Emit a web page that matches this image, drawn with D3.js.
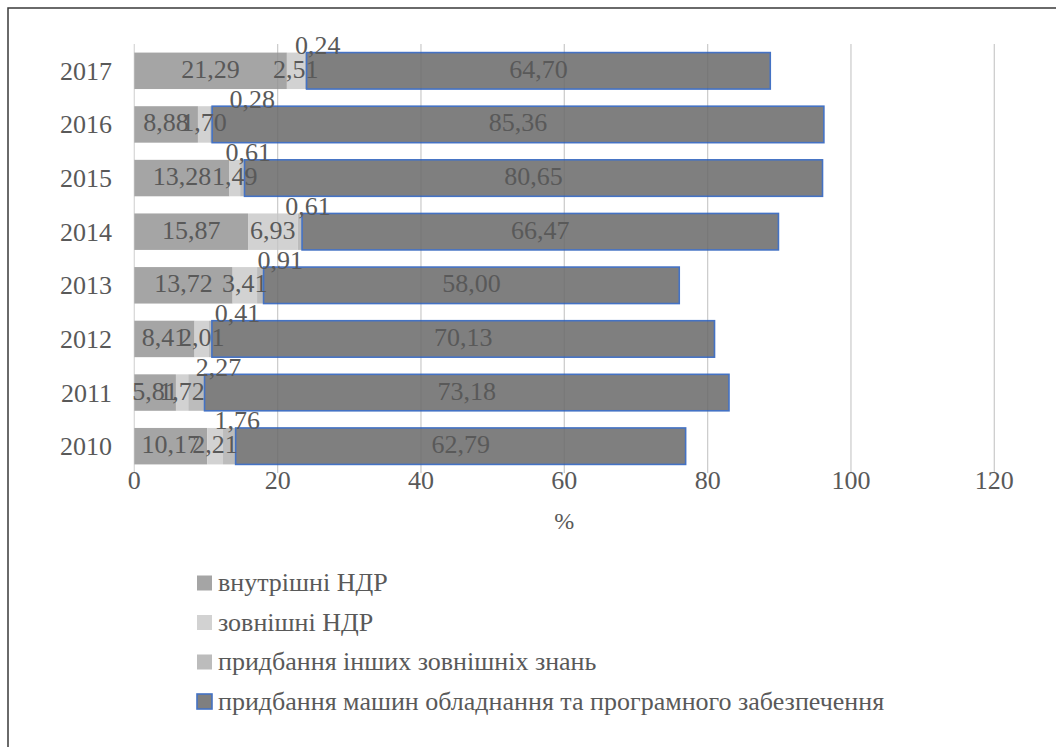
<!DOCTYPE html>
<html>
<head>
<meta charset="utf-8">
<script src="https://cdn.jsdelivr.net/npm/d3@7"></script>
<style>
  html, body { margin: 0; padding: 0; background: #fff; }
  svg { display: block; }
</style>
</head>
<body>
<svg id="chart" width="1056" height="747" font-family="'Liberation Serif', 'Times New Roman', serif"></svg>
<script>
// ---- data ----
const years = ["2010", "2011", "2012", "2013", "2014", "2015", "2016", "2017"];
const internalRD = [10.17, 5.81, 8.41, 13.72, 15.87, 13.28, 8.88, 21.29];
const externalRD = [2.21, 1.72, 2.01, 3.41, 6.93, 1.49, 1.70, 2.51];
const otherKnowledge = [1.76, 2.27, 0.41, 0.91, 0.61, 0.61, 0.28, 0.24];
const machinery = [62.79, 73.18, 70.13, 58.00, 66.47, 80.65, 85.36, 64.70];
const seriesNames = [
  "внутрішні НДР",
  "зовнішні НДР",
  "придбання інших зовнішніх знань",
  "придбання машин обладнання та програмного забезпечення"
];
const xTicks = [0, 20, 40, 60, 80, 100, 120];
const xAxisTitle = "%";

// ---- layout / style (not data) ----
const colors = ["#a5a5a5", "#d2d2d2", "#bcbcbc", "#7f7f7f"];
const textColor = "#595959";
const fontSize = 26;
const smallLabelDx = [8, 22, 27, 20, 8, 6, 41, 12]; // manual nudges of the 3rd series labels

const svg = d3.select("#chart");
const keys = ["a", "b", "c", "d"];
const rows = years.map((y, i) => ({
  year: y, a: internalRD[i], b: externalRD[i], c: otherKnowledge[i], d: machinery[i]
}));
const stacked = d3.stack().keys(keys)(rows);

const x = d3.scaleLinear().domain([0, 120]).range([134.3, 994.3]);
const y = d3.scaleBand().domain(years.slice().reverse()).range([44, 473])
  .paddingInner(0.32).paddingOuter(0.16);

// outer frame
svg.append("rect").attr("x", 8).attr("y", 8).attr("width", 1080).attr("height", 780)
  .attr("fill", "none").attr("stroke", "#3a3a3a").attr("stroke-width", 1.5);

// gridlines (under bars)
svg.append("g").selectAll("line").data(xTicks).join("line")
  .attr("x1", d => x(d)).attr("x2", d => x(d))
  .attr("y1", 44).attr("y2", 473)
  .attr("stroke", "#d9d9d9").attr("stroke-width", 1.3);

// bars
const layers = svg.append("g").selectAll("g").data(stacked).join("g")
  .attr("fill", (d, i) => colors[i]);
layers.selectAll("rect").data(d => d.map(v => ({ v, key: d.key }))).join("rect")
  .attr("x", d => x(d.v[0]))
  .attr("y", d => y(d.v.data.year))
  .attr("width", d => x(d.v[1]) - x(d.v[0]))
  .attr("height", y.bandwidth())
  .attr("stroke", d => d.key === "d" ? "#4472c4" : "none")
  .attr("stroke-width", 1.6);

// gridlines faintly visible through bars
svg.append("g").selectAll("line").data(xTicks.slice(1)).join("line")
  .attr("x1", d => x(d)).attr("x2", d => x(d))
  .attr("y1", 44).attr("y2", 473)
  .attr("stroke", "#000").attr("stroke-opacity", 0.05).attr("stroke-width", 1.3);

// data labels
const fmt = v => v.toFixed(2).replace(".", ",");
const lab = svg.append("g").attr("font-size", fontSize).attr("text-anchor", "middle").attr("fill", textColor);
stacked.forEach((layer, li) => {
  layer.forEach((v, i) => {
    const cy = y(v.data.year) + y.bandwidth() / 2;
    const cx = (x(v[0]) + x(v[1])) / 2;
    const val = v[1] - v[0];
    if (li === 2) {
      lab.append("text").attr("x", cx + smallLabelDx[i]).attr("y", y(v.data.year) + 1.5)
        .text(fmt(val));
    } else {
      lab.append("text").attr("x", cx).attr("y", cy + 7).text(fmt(val));
    }
  });
});

// y axis labels
svg.append("g").attr("font-size", fontSize).attr("text-anchor", "end").attr("fill", textColor)
  .selectAll("text").data(years).join("text")
  .attr("x", 112).attr("y", d => y(d) + y.bandwidth() / 2 + 9)
  .text(d => d);

// x axis labels
svg.append("g").attr("font-size", fontSize).attr("text-anchor", "middle").attr("fill", textColor)
  .selectAll("text").data(xTicks).join("text")
  .attr("x", d => x(d)).attr("y", 489).text(d => d);

svg.append("text").attr("x", x(60)).attr("y", 529).attr("font-size", 24).attr("fill", textColor)
  .attr("text-anchor", "middle").text(xAxisTitle);

// legend
const leg = svg.append("g");
seriesNames.forEach((name, i) => {
  const cy = 583 + i * 39.5;
  leg.append("rect").attr("x", 197).attr("y", cy - 7.5).attr("width", 15).attr("height", 15)
    .attr("fill", colors[i])
    .attr("stroke", i === 3 ? "#4472c4" : "none").attr("stroke-width", 1.6);
  leg.append("text").attr("x", 218).attr("y", cy + 8).attr("font-size", fontSize)
    .attr("fill", textColor).text(name);
});
</script>
</body>
</html>
